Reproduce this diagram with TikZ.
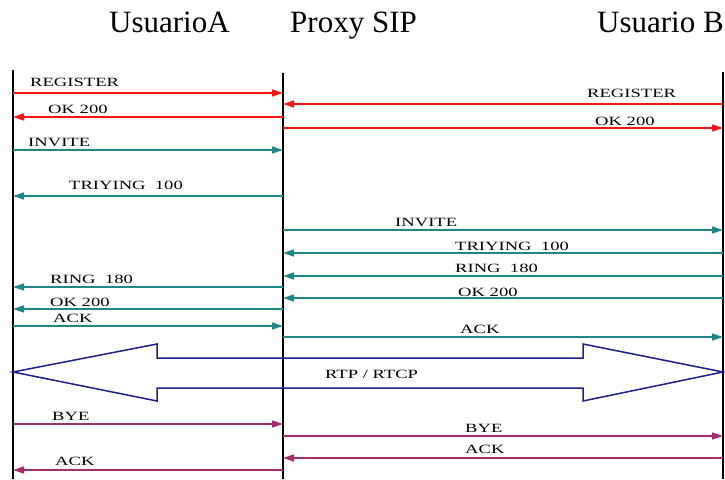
\documentclass[tikz,border=0pt]{standalone}
\usepackage{fontspec}
\setmainfont{Liberation Serif}
\usetikzlibrary{arrows.meta}
\definecolor{sipred}{RGB}{250,20,20}
\definecolor{sipteal}{RGB}{30,135,135}
\definecolor{sipblue}{RGB}{30,30,140}
\definecolor{sipmag}{RGB}{165,45,105}
\newcommand{\msgtext}[1]{\scalebox{1.55}[1.05]{\fontsize{12}{12}\selectfont #1}}
\tikzset{
  lifeline/.style={line width=1.6pt, black},
  msg/.style={line width=1.5pt, -{Triangle[length=11pt,width=7pt]}},
  msglabel/.style={anchor=base west, inner sep=0pt, text=black},
  header/.style={anchor=base west, inner sep=0pt, font=\fontsize{31}{31}\selectfont},
}
\begin{document}
\begin{tikzpicture}[x=1pt,y=-1pt]
\useasboundingbox (0,0) rectangle (725,479);

% participants
\node[header] (hA) at (109,32) {UsuarioA};
\node[header] (hP) at (290,32) {Proxy SIP};
\node[header] (hB) at (597,32) {Usuario B};

% lifelines
\coordinate (A) at (13,70);
\coordinate (P) at (283,73);
\coordinate (B) at (723,72);
\coordinate (Aend) at (13,479);
\coordinate (Pend) at (283,479);
\coordinate (Bend) at (723,479);
\draw[lifeline] (A) -- (Aend);
\draw[lifeline] (P) -- (Pend);
\draw[lifeline] (B) -- (Bend);

% registration
\draw[msg, sipred] (A |- 0,93) -- (P |- 0,93);
\node[msglabel] (l1) at (30,86) {\msgtext{REGISTER}};
\draw[msg, sipred] (B |- 0,104) -- (P |- 0,104);
\node[msglabel] (l2) at (587,97) {\msgtext{REGISTER}};
\draw[msg, sipred] (P |- 0,117) -- (A |- 0,117);
\node[msglabel] (l3) at (48,113) {\msgtext{OK 200}};
\draw[msg, sipred] (P |- 0,128) -- (B |- 0,128);
\node[msglabel] (l4) at (595,125) {\msgtext{OK 200}};

% call setup
\draw[msg, sipteal] (A |- 0,150) -- (P |- 0,150);
\node[msglabel] (l5) at (28,146) {\msgtext{INVITE}};
\draw[msg, sipteal] (P |- 0,196) -- (A |- 0,196);
\node[msglabel] (l6) at (69,189) {\msgtext{TRIYING\ \ 100}};
\draw[msg, sipteal] (P |- 0,230) -- (B |- 0,230);
\node[msglabel] (l7) at (395,226) {\msgtext{INVITE}};
\draw[msg, sipteal] (B |- 0,253) -- (P |- 0,253);
\node[msglabel] (l8) at (455,250) {\msgtext{TRIYING\ \ 100}};
\draw[msg, sipteal] (B |- 0,276) -- (P |- 0,276);
\node[msglabel] (l9) at (455,272) {\msgtext{RING\ \ 180}};
\draw[msg, sipteal] (P |- 0,287) -- (A |- 0,287);
\node[msglabel] (l10) at (50,283) {\msgtext{RING\ \ 180}};
\draw[msg, sipteal] (B |- 0,298) -- (P |- 0,298);
\node[msglabel] (l11) at (458,296) {\msgtext{OK 200}};
\draw[msg, sipteal] (P |- 0,309) -- (A |- 0,309);
\node[msglabel] (l12) at (50,306) {\msgtext{OK 200}};
\draw[msg, sipteal] (A |- 0,326) -- (P |- 0,326);
\node[msglabel] (l13) at (53,322) {\msgtext{ACK}};
\draw[msg, sipteal] (P |- 0,337) -- (B |- 0,337);
\node[msglabel] (l14) at (460,333) {\msgtext{ACK}};

% media stream
\draw[sipblue, line width=1.5pt, line join=miter]
  (13,372) -- (157,344) -- (157,358) -- (583,358) -- (583,344) -- (723,372)
  -- (583,401) -- (583,388) -- (157,388) -- (157,401) -- cycle;
\node[msglabel] (l15) at (325,378) {\msgtext{RTP / RTCP}};

% teardown
\draw[msg, sipmag] (A |- 0,424) -- (P |- 0,424);
\node[msglabel] (l16) at (52,420) {\msgtext{BYE}};
\draw[msg, sipmag] (P |- 0,436) -- (B |- 0,436);
\node[msglabel] (l17) at (465,432) {\msgtext{BYE}};
\draw[msg, sipmag] (B |- 0,458) -- (P |- 0,458);
\node[msglabel] (l18) at (465,453) {\msgtext{ACK}};
\draw[msg, sipmag] (P |- 0,470) -- (A |- 0,470);
\node[msglabel] (l19) at (55,465) {\msgtext{ACK}};
\end{tikzpicture}
\end{document}
